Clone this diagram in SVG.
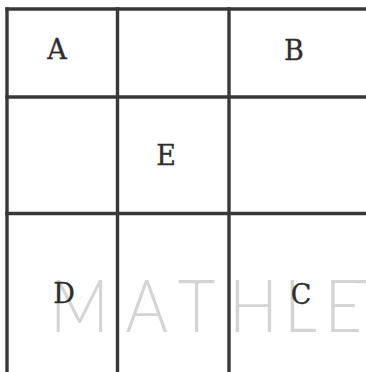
<svg xmlns="http://www.w3.org/2000/svg" width="366" height="372" viewBox="0 0 366 372">
<style>
.grid line{stroke:#383838;stroke-width:3.4;stroke-linecap:square}
.lbl{font-family:"DejaVu Serif","Liberation Serif",serif;font-size:27px;fill:#2e2e2e;stroke:#2e2e2e;stroke-width:0.3;text-anchor:middle}
.wm{font-family:Lato,"Open Sans","DejaVu Sans",sans-serif;font-weight:300;font-size:72px;fill:#d4d4d4}
</style>
<rect width="366" height="372" fill="#fff"/>
<g id="watermark">
<text class="wm" transform="translate(50 0) scale(0.9 1)" x="0 84 142 199 260 305 338" y="332">MATHLET</text>
</g>
<g id="connectors" class="grid">
<line x1="7" y1="9" x2="366" y2="9"/>
<line x1="7" y1="97" x2="366" y2="97"/>
<line x1="7" y1="213.5" x2="366" y2="213.5"/>
<line x1="7" y1="9" x2="7" y2="372"/>
<line x1="117.5" y1="9" x2="117.5" y2="372"/>
<line x1="229" y1="9" x2="229" y2="372"/>
</g>
<g id="A"><text class="lbl" x="57" y="59">A</text></g>
<g id="B"><text class="lbl" x="294" y="60">B</text></g>
<g id="E"><text class="lbl" x="166" y="165">E</text></g>
<g id="D"><text class="lbl" x="64" y="303">D</text></g>
<g id="C"><text class="lbl" x="301" y="304">C</text></g>
</svg>
